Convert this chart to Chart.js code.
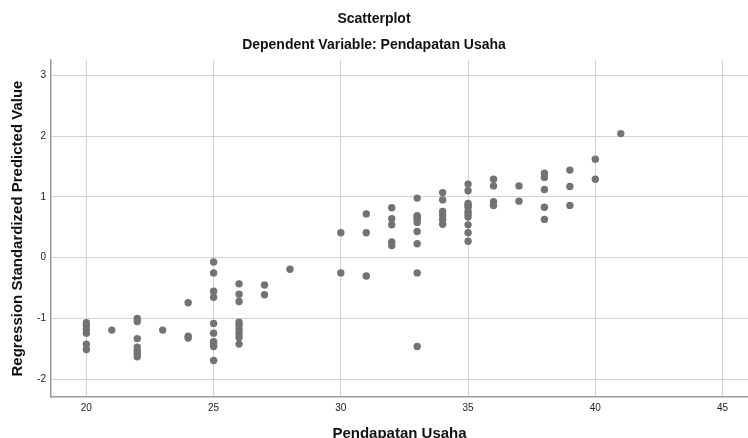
<!DOCTYPE html>
<html>
<head>
<meta charset="utf-8">
<script src="https://cdn.jsdelivr.net/npm/chart.js@4/dist/chart.umd.min.js"></script>
<style>
  html, body { margin: 0; padding: 0; background: #fff; }
  #chart { display: block; }
</style>
</head>
<body>
<canvas id="chart" width="748" height="438"></canvas>
<script>
/* ---------- DATA ---------- */
const pendapatan = [20, 21, 22, 23, 24, 25, 26, 27, 28, 30, 31, 32, 33, 34, 35, 36, 37, 38, 39, 40, 41];

const predicted = [
  [-1.07, -1.12, -1.18, -1.24, -1.42, -1.51],
  [-1.19],
  [-1.00, -1.05, -1.33, -1.47, -1.53, -1.58, -1.63],
  [-1.19],
  [-0.74, -1.29, -1.32],
  [-0.07, -0.25, -0.55, -0.65, -1.08, -1.24, -1.38, -1.42, -1.46, -1.69],
  [-0.43, -0.60, -0.72, -1.06, -1.11, -1.18, -1.24, -1.31, -1.42],
  [-0.45, -0.61],
  [-0.19],
  [0.41, -0.25],
  [0.72, 0.41, -0.30],
  [0.82, 0.64, 0.54, 0.26, 0.20],
  [0.98, 0.69, 0.66, 0.63, 0.58, 0.43, 0.23, -0.25, -1.46],
  [1.07, 0.95, 0.76, 0.70, 0.63, 0.55],
  [1.21, 1.10, 0.89, 0.86, 0.83, 0.76, 0.72, 0.67, 0.54, 0.41, 0.27],
  [1.29, 1.18, 0.92, 0.86],
  [1.18, 0.93],
  [1.39, 1.32, 1.12, 0.83, 0.63],
  [1.44, 1.17, 0.86],
  [1.62, 1.29],
  [2.04]
];

const xTicks = [20, 25, 30, 35, 40, 45];
const yTicks = [-2, -1, 0, 1, 2, 3];

/* ---------- BUILD POINTS ---------- */
const points = [];
pendapatan.forEach((x, i) => {
  predicted[i].forEach(y => points.push({ x: x, y: y }));
});

const FONT = "'Liberation Sans', Arial, sans-serif";

new Chart(document.getElementById("chart"), {
  type: "scatter",
  data: {
    datasets: [{
      data: points,
      backgroundColor: "#737373",
      borderWidth: 0,
      pointRadius: 3.7,
      pointHoverRadius: 3.7
    }]
  },
  options: {
    responsive: false,
    animation: false,
    layout: { padding: 0, autoPadding: false },
    plugins: {
      legend: { display: false },
      tooltip: { enabled: false },
      title: {
        display: true,
        text: "Scatterplot",
        color: "#111",
        font: { family: FONT, size: 14, weight: "bold" },
        padding: { top: 11, bottom: 9 }
      },
      subtitle: {
        display: true,
        text: "Dependent Variable: Pendapatan Usaha",
        color: "#111",
        font: { family: FONT, size: 14, weight: "bold" },
        padding: { top: 0, bottom: 6.4 }
      }
    },
    scales: {
      x: {
        type: "linear",
        min: 18.61,
        max: 46,
        afterFit: s => { s.height = 41; },
        afterBuildTicks: s => { s.ticks = xTicks.map(v => ({ value: v })); },
        ticks: {
          color: "#222",
          font: { family: FONT, size: 10 },
          padding: 5,
          maxRotation: 0
        },
        grid: { color: "#d2d2d2", lineWidth: 1, drawTicks: false },
        border: { color: "#9a9a9a", width: 1.5 },
        title: {
          display: true,
          text: "Pendapatan Usaha",
          color: "#111",
          font: { family: FONT, size: 15, weight: "bold" },
          padding: { top: 0, bottom: -5 }
        }
      },
      y: {
        type: "linear",
        min: -2.29,
        max: 3.25,
        afterFit: s => { s.width = 51; },
        afterBuildTicks: s => { s.ticks = yTicks.map(v => ({ value: v })); },
        ticks: {
          color: "#222",
          font: { family: FONT, size: 10 },
          padding: 5
        },
        grid: { color: "#d2d2d2", lineWidth: 1, drawTicks: false },
        border: { color: "#9a9a9a", width: 1.5 },
        title: {
          display: true,
          text: "Regression Standardized Predicted Value",
          color: "#111",
          font: { family: FONT, size: 15, weight: "bold" },
          padding: { top: 8.5, bottom: 0 }
        }
      }
    }
  }
});
</script>
</body>
</html>
